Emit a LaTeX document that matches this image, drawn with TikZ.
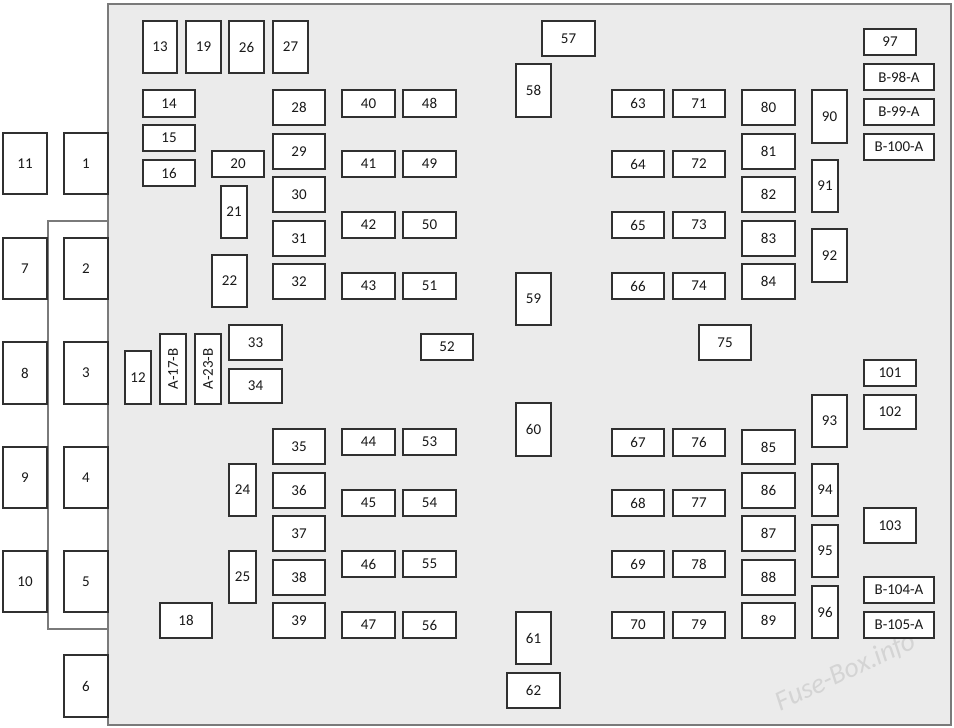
\documentclass[tikz,border=0pt]{standalone}
\usepackage{fontspec}
\setmainfont{Carlito}
\definecolor{panelfill}{HTML}{EBEBEB}
\definecolor{panelline}{HTML}{7A7A7A}
\definecolor{boxline}{HTML}{303030}
\definecolor{wmark}{HTML}{D4D4D4}
\tikzset{
  fusebox/.style={draw=boxline, line width=1.4pt, fill=white, inner sep=0pt, outer sep=0pt,
    font=\fontsize{15}{17}\selectfont, text=black!90},
  panel/.style={draw=panelline, line width=1.2pt, fill=panelfill},
  bracket/.style={draw=panelline, line width=1.2pt}
}
\newcommand{\fz}[6]{%
  \node[fusebox, minimum width={(#3-#1)*1pt}, minimum height={(#4-#2)*1pt}]
    (#6) at ({(#1+#3)/2},{(#2+#4)/2}) {#5};}
\begin{document}
\begin{tikzpicture}[x=1pt,y=-1pt]
\useasboundingbox (0,0) rectangle (954,728);
\fill[white] (0,0) rectangle (954,728);
% panel
\draw[panel] (108,4) rectangle (951,725);
% watermark
\node[text=wmark, rotate=25, font=\fontsize{28}{30}\selectfont\itshape] (wm) at (846,672) {Fuse-Box.info};
% bracket line
\coordinate (bA) at (108,221);
\coordinate (bB) at (48,221);
\coordinate (bC) at (48,629);
\coordinate (bD) at (108,629);
\draw[bracket] (bA) -- (bB) -- (bC) -- (bD);
% left relays
\fz{3}{133}{47}{194}{11}{f11}
\fz{64}{133}{108}{194}{1}{f1}
\fz{3}{238}{47}{299}{7}{f7}
\fz{64}{238}{108}{299}{2}{f2}
\fz{3}{342}{47}{404}{8}{f8}
\fz{64}{342}{108}{404}{3}{f3}
\fz{3}{447}{47}{508}{9}{f9}
\fz{64}{447}{108}{508}{4}{f4}
\fz{3}{551}{47}{612}{10}{f10}
\fz{64}{551}{108}{612}{5}{f5}
\fz{64}{655}{108}{717}{6}{f6}
% top row
\fz{143}{21}{177}{73}{13}{f13}
\fz{186}{21}{221}{73}{19}{f19}
\fz{229}{21}{264}{73}{26}{f26}
\fz{273}{21}{308}{73}{27}{f27}
% 14-16
\fz{143}{90}{195}{117}{14}{f14}
\fz{143}{125}{195}{151}{15}{f15}
\fz{143}{160}{195}{186}{16}{f16}
\fz{212}{151}{264}{177}{20}{f20}
\fz{221}{186}{247}{238}{21}{f21}
\fz{212}{255}{247}{307}{22}{f22}
% 28-32
\fz{273}{90}{325}{125}{28}{f28}
\fz{273}{134}{325}{169}{29}{f29}
\fz{273}{177}{325}{212}{30}{f30}
\fz{273}{221}{325}{256}{31}{f31}
\fz{273}{264}{325}{299}{32}{f32}
% 12, A-17-B, A-23-B, 33, 34
\fz{125}{351}{151}{404}{12}{f12}
\fz{160}{334}{186}{404}{\rotatebox{90}{A-17-B}}{fA17B}
\fz{195}{334}{221}{404}{\rotatebox{90}{A-23-B}}{fA23B}
\fz{229}{325}{282}{360}{33}{f33}
\fz{229}{369}{282}{403}{34}{f34}
% 35-39, 24, 25, 18
\fz{273}{429}{325}{464}{35}{f35}
\fz{273}{473}{325}{508}{36}{f36}
\fz{273}{516}{325}{551}{37}{f37}
\fz{273}{560}{325}{595}{38}{f38}
\fz{273}{603}{325}{638}{39}{f39}
\fz{229}{464}{256}{516}{24}{f24}
\fz{229}{551}{256}{603}{25}{f25}
\fz{160}{603}{212}{638}{18}{f18}
% 40-56
\fz{342}{90}{395}{117}{40}{f40}
\fz{403}{90}{456}{117}{48}{f48}
\fz{342}{151}{395}{177}{41}{f41}
\fz{403}{151}{456}{177}{49}{f49}
\fz{342}{212}{395}{238}{42}{f42}
\fz{403}{212}{456}{238}{50}{f50}
\fz{342}{273}{395}{299}{43}{f43}
\fz{403}{273}{456}{299}{51}{f51}
\fz{421}{334}{473}{360}{52}{f52}
\fz{342}{429}{395}{455}{44}{f44}
\fz{403}{429}{456}{455}{53}{f53}
\fz{342}{490}{395}{516}{45}{f45}
\fz{403}{490}{456}{516}{54}{f54}
\fz{342}{551}{395}{577}{46}{f46}
\fz{403}{551}{456}{577}{55}{f55}
\fz{342}{612}{395}{638}{47}{f47}
\fz{403}{612}{456}{638}{56}{f56}
% center column
\fz{542}{21}{595}{56}{57}{f57}
\fz{516}{64}{551}{117}{58}{f58}
\fz{516}{273}{551}{325}{59}{f59}
\fz{516}{403}{551}{456}{60}{f60}
\fz{516}{612}{551}{664}{61}{f61}
\fz{507}{673}{560}{708}{62}{f62}
% 63-79
\fz{612}{90}{664}{117}{63}{f63}
\fz{673}{90}{725}{117}{71}{f71}
\fz{612}{151}{664}{177}{64}{f64}
\fz{673}{151}{725}{177}{72}{f72}
\fz{612}{212}{664}{238}{65}{f65}
\fz{673}{212}{725}{238}{73}{f73}
\fz{612}{273}{664}{299}{66}{f66}
\fz{673}{273}{725}{299}{74}{f74}
\fz{699}{325}{751}{360}{75}{f75}
\fz{612}{429}{664}{456}{67}{f67}
\fz{673}{429}{725}{456}{76}{f76}
\fz{612}{490}{664}{516}{68}{f68}
\fz{673}{490}{725}{516}{77}{f77}
\fz{612}{551}{664}{577}{69}{f69}
\fz{673}{551}{725}{577}{78}{f78}
\fz{612}{612}{664}{638}{70}{f70}
\fz{673}{612}{725}{638}{79}{f79}
% 80-89
\fz{742}{90}{795}{125}{80}{f80}
\fz{742}{134}{795}{169}{81}{f81}
\fz{742}{177}{795}{212}{82}{f82}
\fz{742}{221}{795}{256}{83}{f83}
\fz{742}{264}{795}{299}{84}{f84}
\fz{742}{430}{795}{464}{85}{f85}
\fz{742}{473}{795}{508}{86}{f86}
\fz{742}{516}{795}{551}{87}{f87}
\fz{742}{560}{795}{595}{88}{f88}
\fz{742}{603}{795}{638}{89}{f89}
% 90-96
\fz{812}{90}{847}{143}{90}{f90}
\fz{812}{160}{838}{212}{91}{f91}
\fz{812}{229}{847}{282}{92}{f92}
\fz{812}{395}{847}{447}{93}{f93}
\fz{812}{464}{838}{516}{94}{f94}
\fz{812}{525}{838}{577}{95}{f95}
\fz{812}{586}{838}{638}{96}{f96}
% right column
\fz{864}{29}{916}{55}{97}{f97}
\fz{864}{64}{934}{90}{B-98-A}{fB98A}
\fz{864}{99}{934}{125}{B-99-A}{fB99A}
\fz{864}{134}{934}{160}{B-100-A}{fB100A}
\fz{864}{360}{916}{386}{101}{f101}
\fz{864}{395}{916}{429}{102}{f102}
\fz{864}{508}{916}{543}{103}{f103}
\fz{864}{577}{934}{603}{B-104-A}{fB104A}
\fz{864}{612}{934}{638}{B-105-A}{fB105A}
\end{tikzpicture}
\end{document}
